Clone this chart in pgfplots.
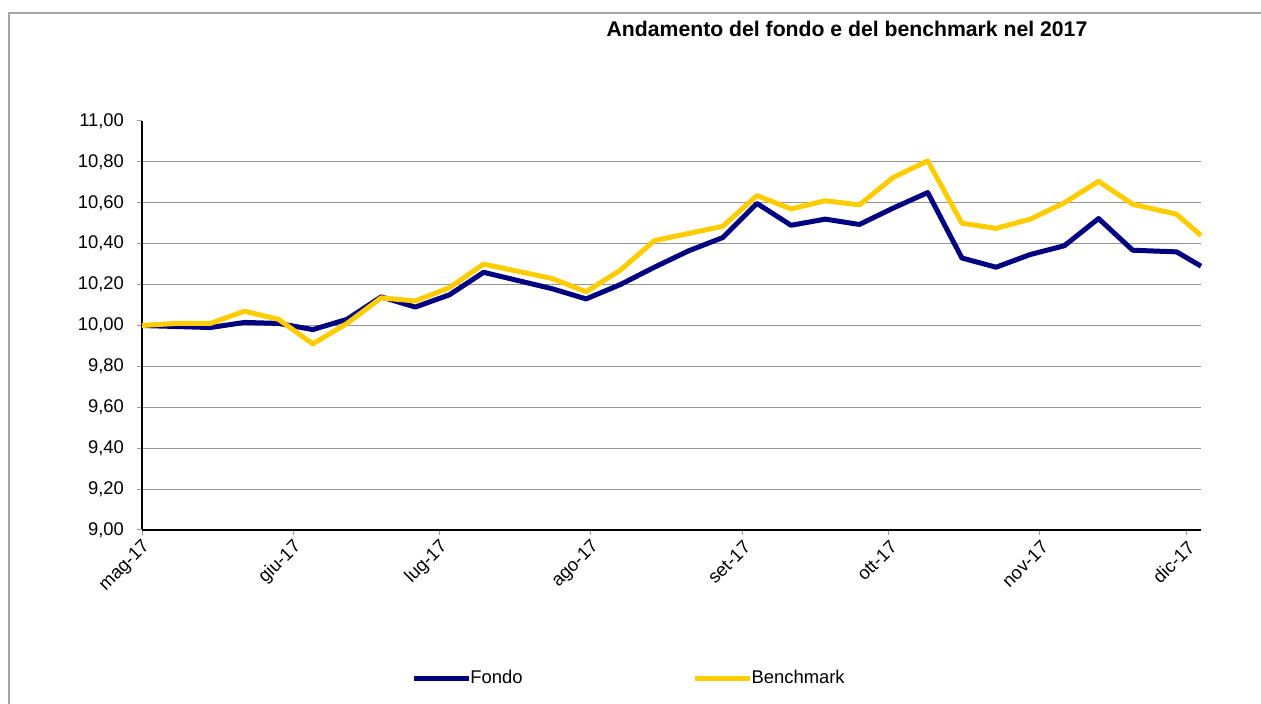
\documentclass[border=0pt]{standalone}
\usepackage{fontspec}
\setmainfont{Liberation Sans}
\usepackage{pgfplots}
\pgfplotsset{compat=1.18}
\usepackage{pgfplotstable}
\definecolor{fondo}{RGB}{0,0,128}
\definecolor{bench}{RGB}{255,204,0}
\definecolor{gridc}{RGB}{150,150,150}
\definecolor{framec}{RGB}{166,166,166}

\pgfplotstableread{
day fondo bench
0   10.000 10.000
7   9.995  10.010
14  9.990  10.010
21  10.015 10.070
28  10.010 10.030
35  9.980  9.910
42  10.030 10.010
49  10.140 10.135
56  10.090 10.120
63  10.150 10.185
70  10.260 10.300
77  10.220 10.265
84  10.180 10.230
91  10.130 10.165
98  10.200 10.270
105 10.285 10.415
112 10.365 10.450
119 10.430 10.485
126 10.597 10.635
133 10.490 10.570
140 10.520 10.610
147 10.494 10.590
154 10.575 10.725
161 10.650 10.805
168 10.330 10.500
175 10.285 10.475
182 10.347 10.520
189 10.390 10.600
196 10.523 10.705
203 10.368 10.593
212 10.360 10.544
217 10.290 10.440
}\data

\begin{document}
\begin{tikzpicture}
\path[use as bounding box] (0pt,0pt) rectangle (630.5pt,352pt);
\draw[framec, line width=1pt] (4.5pt,0pt) -- (4.5pt,345.5pt) -- (630.5pt,345.5pt);
\node[anchor=base, font=\fontsize{10.6}{12}\selectfont\bfseries, inner sep=0pt] at (423.5pt,333.5pt) {Andamento del fondo e del benchmark nel 2017};
\begin{axis}[
  at={(71pt,87pt)}, anchor=south west, scale only axis,
  width=529.5pt, height=204.5pt,
  xmin=0, xmax=217, ymin=9, ymax=11,
  axis lines*=left,
  axis line style={black, line width=0.6pt},
  tick align=outside,
  major tick length=2.5pt,
  tick style={gridc, line width=0.5pt},
  ytick={9.2,9.4,9.6,9.8,10,10.2,10.4,10.6,10.8},
  extra y ticks={9,11},
  extra y tick style={grid=none},
  ymajorgrids,
  grid style={gridc, line width=0.5pt},
  /pgf/number format/fixed,
  /pgf/number format/fixed zerofill,
  /pgf/number format/precision=2,
  /pgf/number format/use comma,
  /pgf/number format/assume math mode=true,
  xtick={0,31,61,92,123,153,184,214},
  xticklabels={mag-17,giu-17,lug-17,ago-17,set-17,ott-17,nov-17,dic-17},
  tick label style={font=\fontsize{9.2}{11}\selectfont},
  yticklabel style={xshift=-3pt},
  xticklabel style={rotate=45, anchor=east, xshift=2pt, yshift=-5pt},
  legend columns=2,
  legend style={at={(0.2484,-0.362)}, anchor=west, draw=none, fill=none,
    font=\fontsize{9.2}{11}\selectfont,
    /tikz/every even column/.append style={column sep=83pt},
    /tikz/every odd column/.append style={column sep=-2.5pt}},
  legend image code/.code={\draw[#1] (0pt,0pt) -- (27.5pt,0pt);},
  clip=false,
]
\addplot[fondo, line width=2.5pt, line join=round] table[x=day,y=fondo]{\data};
\addlegendentry{Fondo}
\addplot[bench, line width=2.5pt, line join=round] table[x=day,y=bench]{\data};
\addlegendentry{Benchmark}
\end{axis}
\end{tikzpicture}
\end{document}
